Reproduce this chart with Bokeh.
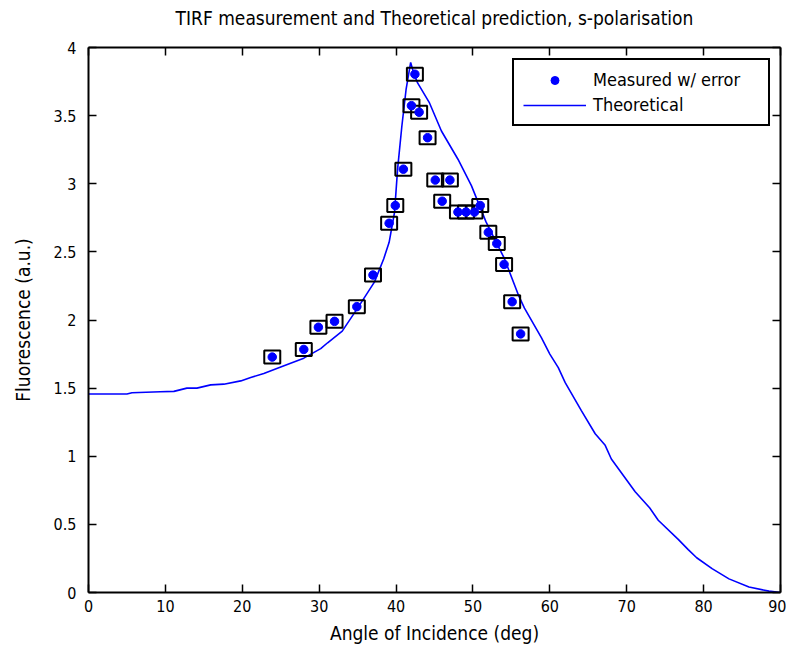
from bokeh.plotting import figure
from bokeh.models import (LinearAxis, Range1d, FixedTicker, Legend, LegendItem,
                          ColumnDataSource, CustomLabelingPolicy)
from bokeh.embed import file_html
from bokeh.resources import INLINE

# Measured data (angle in deg, fluorescence a.u.)
meas_angle = [23.9, 28.0, 29.9, 32.0, 34.9, 37.0, 39.1, 39.9, 40.95, 42.0, 42.45, 43.0,
              44.1, 45.1, 47.0, 46.0, 48.05, 49.1, 50.2, 50.95, 52.0, 53.1, 54.05, 55.1, 56.2]
meas_fluor = [1.728, 1.784, 1.947, 1.99, 2.098, 2.33, 2.71, 2.84, 3.107, 3.573, 3.804, 3.525,
              3.338, 3.027, 3.027, 2.872, 2.792, 2.792, 2.792, 2.84, 2.644, 2.561, 2.408, 2.134, 1.898]

# Theoretical curve
theo_angle = [0, 5.0, 5.65, 9.35, 11.1, 12.8, 14.1, 15.9, 17.6, 19.8, 21.1, 22.8, 25.0, 28.0,
              30.2, 31.1, 33.0, 35.0, 37.2, 38.4, 39.1, 39.8, 40.2, 40.75, 41.3, 41.9, 42.3,
              42.8, 44.35, 45.9, 48.05, 49.8, 51.7, 54.1, 55.9, 56.7, 58.9, 60.0, 61.1, 62.0,
              64.1, 65.9, 67.2, 68.0, 71.1, 73.0, 74.1, 76.7, 78.0, 79.1, 81.1, 83.3, 85.9,
              88.5, 90.0]
theo_fluor = [1.457, 1.457, 1.466, 1.473, 1.476, 1.50, 1.50, 1.524, 1.529, 1.553, 1.578, 1.607,
              1.655, 1.72, 1.79, 1.833, 1.918, 2.087, 2.28, 2.45, 2.57, 2.79, 3.107, 3.42, 3.69,
              3.89, 3.81, 3.74, 3.593, 3.387, 3.18, 2.986, 2.72, 2.45, 2.185, 2.087, 1.87, 1.75,
              1.65, 1.54, 1.335, 1.165, 1.08, 0.98, 0.74, 0.62, 0.53, 0.39, 0.315, 0.255, 0.175,
              0.10, 0.04, 0.01, 0.0]

x_ticks = [0, 10, 20, 30, 40, 50, 60, 70, 80, 90]
y_ticks = [0, 0.5, 1, 1.5, 2, 2.5, 3, 3.5, 4]
y_tick_labels = {0: "0", 0.5: "0.5", 1: "1", 1.5: "1.5", 2: "2", 2.5: "2.5", 3: "3", 3.5: "3.5", 4: "4"}

FONT = "'DejaVu Sans Condensed', 'Liberation Sans Narrow', 'Roboto Condensed', sans-serif"

p = figure(width=786, height=646, output_backend="svg", toolbar_location=None,
           x_range=Range1d(0, 90), y_range=Range1d(0, 4),
           min_border_left=88, min_border_right=0, min_border_top=46, min_border_bottom=53,
           title="TIRF measurement and Theoretical prediction, s-polarisation")
p.title.align = "center"
p.title.text_font = FONT
p.title.text_font_size = "19px"
p.title.text_font_style = "normal"
p.title.text_color = "black"
p.title.standoff = 8

p.xgrid.visible = False
p.ygrid.visible = False
p.outline_line_color = None

def style_axis(ax, show_labels=True):
    ax.axis_line_color = "black"
    ax.axis_line_width = 2
    ax.major_tick_line_color = "black"
    ax.major_tick_line_width = 1.5
    ax.major_tick_in = 8
    ax.major_tick_out = 0
    ax.minor_tick_line_color = None
    ax.major_label_text_font = FONT
    ax.major_label_text_font_size = "16px"
    ax.major_label_text_color = "black"
    ax.axis_label_text_font = FONT
    ax.axis_label_text_font_size = "19px"
    ax.axis_label_text_font_style = "normal"
    ax.axis_label_text_color = "black"
    if not show_labels:
        ax.major_label_policy = CustomLabelingPolicy(
            code="for (const i of indices) { indices.unset(i) }\nreturn indices")
        ax.major_label_standoff = 0

p.xaxis.ticker = FixedTicker(ticks=x_ticks)
p.yaxis.ticker = FixedTicker(ticks=y_ticks)
p.yaxis.major_label_overrides = y_tick_labels
p.xaxis.axis_label = "Angle of Incidence (deg)"
p.yaxis.axis_label = "Fluorescence (a.u.)"
style_axis(p.xaxis[0])
style_axis(p.yaxis[0])
p.xaxis.major_label_standoff = 7
p.yaxis.major_label_standoff = 12
p.xaxis.axis_label_standoff = 7
p.yaxis.axis_label_standoff = 17

top_ax = LinearAxis(ticker=FixedTicker(ticks=x_ticks))
right_ax = LinearAxis(ticker=FixedTicker(ticks=y_ticks))
style_axis(top_ax, False)
style_axis(right_ax, False)
right_ax.major_label_text_font_size = "1px"
right_ax.axis_label_standoff = 0
right_ax.major_label_standoff = 2
p.add_layout(top_ax, "above")
p.add_layout(right_ax, "right")

theo = p.line(theo_angle, theo_fluor, line_color="#0000ff", line_width=1.6)
src = ColumnDataSource(dict(x=meas_angle, y=meas_fluor))
p.rect("x", "y", width=16, height=13, width_units="screen", height_units="screen",
       source=src, fill_color=None, line_color="black", line_width=2)
dots = p.scatter("x", "y", source=src, size=8.5, fill_color="#0000ff", line_color="#0000ff")

legend = Legend(items=[LegendItem(label="Measured w/ error", renderers=[dots]),
                       LegendItem(label="Theoretical", renderers=[theo])],
                location=(424, 466), glyph_width=63, label_width=166,
                label_text_font=FONT, label_text_font_size="18px", label_text_color="black",
                border_line_color="black", border_line_width=2, border_line_alpha=1,
                padding=9, spacing=4, label_height=20, glyph_height=20,
                margin=0, label_standoff=7)
p.add_layout(legend)

open("out.html", "w").write(file_html(p, INLINE))
